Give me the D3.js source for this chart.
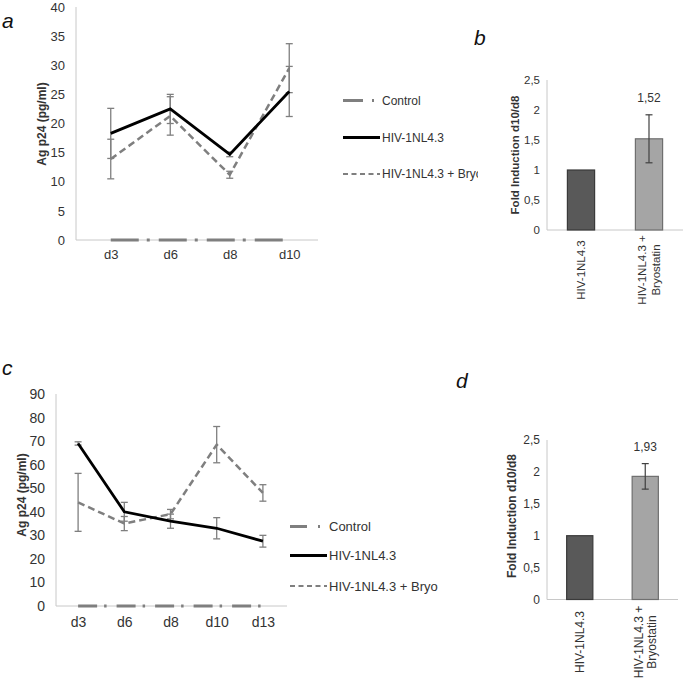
<!DOCTYPE html>
<html lang="en">
<head>
  <meta charset="UTF-8">
  <title>Ag p24 / Fold Induction</title>
  <style>
    body { margin: 0; background: #fff; }
    svg text { font-family: "Liberation Sans", Arial, sans-serif; fill: #333; }
    .panel { font-style: italic; font-size: 21px; fill: #111; }
    .ytitle { font-weight: bold; }
  </style>
</head>
<body>
<div id="chart"></div>
<script src="https://cdn.jsdelivr.net/npm/d3@7"></script>
<script>
// panel a
let daysA = ['d3', 'd6', 'd8', 'd10']
let controlA = [0, 0, 0, 0]
let hivA = [18.3, 22.5, 14.7, 25.5]
let hivErrA = [4.3, 2.5, 0.4, 4.3]
let bryoA = [13.9, 21.3, 11.2, 29.5]
let bryoErrA = [3.4, 3.3, 0.6, 4.2]
let ticksA = [0, 5, 10, 15, 20, 25, 30, 35, 40]

// panel c
let daysC = ['d3', 'd6', 'd8', 'd10', 'd13']
let controlC = [0, 0, 0, 0, 0]
let hivC = [69, 40, 36, 33, 27.5]
let hivErrC = [0.7, 4, 3, 4.5, 2.5]
let bryoC = [44, 35, 39, 68.5, 48]
let bryoErrC = [12.3, 3, 2, 7.7, 3.5]
let ticksC = [0, 10, 20, 30, 40, 50, 60, 70, 80, 90]

// panels b, d
let groups = [['HIV-1NL4.3'], ['HIV-1NL4.3 +', 'Bryostatin']]
let foldB = [1, 1.52]
let foldErrB = [0, 0.4]
let foldD = [1, 1.93]
let foldErrD = [0, 0.2]
let ticksFold = [0, 0.5, 1, 1.5, 2, 2.5]

let legendNames = ['Control', 'HIV-1NL4.3', 'HIV-1NL4.3 + Bryo']

let axisColor = '#c8c8c8'
let grey = '#7f7f7f'

let svg = d3.select('#chart').append('svg').attr('width', 685).attr('height', 682)

svg.append('defs').append('clipPath').attr('id', 'legclipA')
  .append('rect').attr('x', 330).attr('y', 80).attr('width', 148).attr('height', 110)

function linePanel(o) {
  let g = svg.append('g')
  let y = d3.scaleLinear().domain([0, o.ymax]).range([o.y0, o.y1])
  let x = d3.scalePoint().domain(o.days).range(o.xr).padding(0.5)

  // axes
  g.append('line').attr('x1', o.ax).attr('x2', o.ax).attr('y1', o.y1).attr('y2', o.y0)
    .attr('stroke', axisColor)
  g.append('line').attr('x1', o.ax).attr('x2', o.xend).attr('y1', o.y0).attr('y2', o.y0)
    .attr('stroke', axisColor)

  let yAxis = d3.axisLeft(y).tickValues(o.ticks).tickSize(0).tickPadding(o.ax - o.labx)
  g.append('g').attr('transform', 'translate(' + o.ax + ',0)').call(yAxis)
    .call(s => s.select('.domain').remove())
    .selectAll('text').style('font-size', o.fs + 'px').attr('fill', '#333')

  let xAxis = d3.axisBottom(x).tickSize(0).tickPadding(o.xpad)
  g.append('g').attr('transform', 'translate(0,' + o.y0 + ')').call(xAxis)
    .call(s => s.select('.domain').remove())
    .selectAll('text').style('font-size', o.fs + 'px').attr('fill', '#333')

  g.append('text').attr('class', 'ytitle')
    .attr('transform', 'translate(' + o.tx + ',' + o.ty + ') rotate(-90)')
    .attr('text-anchor', 'middle').attr('dy', '0.35em')
    .style('font-size', '12px').attr('fill', '#111').text('Ag p24 (pg/ml)')

  let line = d3.line().x((d, i) => x(o.days[i])).y(d => y(d))

  // control
  g.append('path').datum(o.control).attr('d', line).attr('fill', 'none')
    .attr('stroke', grey).attr('stroke-width', 3).attr('stroke-dasharray', o.dashdot)

  // error bars
  function errors(vals, errs) {
    vals.forEach((v, i) => {
      let cx = x(o.days[i])
      let top = y(v + errs[i]), bot = y(v - errs[i])
      g.append('line').attr('x1', cx).attr('x2', cx).attr('y1', top).attr('y2', bot)
        .attr('stroke', grey).attr('stroke-width', 1.3)
      ;[top, bot].forEach(yy => {
        g.append('line').attr('x1', cx - 3.5).attr('x2', cx + 3.5).attr('y1', yy).attr('y2', yy)
          .attr('stroke', grey).attr('stroke-width', 1.3)
      })
    })
  }
  errors(o.hiv, o.hivErr)
  errors(o.bryo, o.bryoErr)

  g.append('path').datum(o.bryo).attr('d', line).attr('fill', 'none')
    .attr('stroke', grey).attr('stroke-width', 2.5).attr('stroke-dasharray', '7,4')
  g.append('path').datum(o.hiv).attr('d', line).attr('fill', 'none')
    .attr('stroke', '#000').attr('stroke-width', 2.8)

  // legend
  let lg = g.append('g')
  if (o.clip) lg.attr('clip-path', 'url(#' + o.clip + ')')
  o.legY.forEach((ly, i) => {
    if (i === 0) {
      lg.append('line').attr('x1', o.lx).attr('x2', o.lx + o.ldash).attr('y1', ly).attr('y2', ly)
        .attr('stroke', grey).attr('stroke-width', 3)
      lg.append('line').attr('x1', o.ldot).attr('x2', o.ldot + 2).attr('y1', ly).attr('y2', ly)
        .attr('stroke', grey).attr('stroke-width', 3)
    } else if (i === 1) {
      lg.append('line').attr('x1', o.lx).attr('x2', o.lx2).attr('y1', ly).attr('y2', ly)
        .attr('stroke', '#000').attr('stroke-width', 2.8)
    } else {
      lg.append('line').attr('x1', o.lx).attr('x2', o.lx2).attr('y1', ly).attr('y2', ly)
        .attr('stroke', grey).attr('stroke-width', 2.2).attr('stroke-dasharray', '5,3.5')
    }
    lg.append('text').attr('x', o.ltx).attr('y', ly).attr('dy', '0.35em')
      .style('font-size', o.lfs + 'px').attr('fill', '#222').text(legendNames[i])
  })
}

function barPanel(o) {
  let g = svg.append('g')
  let y = d3.scaleLinear().domain([0, 2.5]).range([o.y0, o.y1])
  let x = d3.scaleBand().domain([0, 1]).range(o.xr).paddingInner(0.6).paddingOuter(0.3)

  g.append('line').attr('x1', o.ax).attr('x2', o.ax).attr('y1', o.y1).attr('y2', o.y0)
    .attr('stroke', axisColor)
  g.append('line').attr('x1', o.ax).attr('x2', o.xr[1]).attr('y1', o.y0).attr('y2', o.y0)
    .attr('stroke', axisColor)

  let yAxis = d3.axisLeft(y).tickValues(ticksFold).tickSize(0).tickPadding(7)
    .tickFormat(d => String(d).replace('.', ','))
  g.append('g').attr('transform', 'translate(' + o.ax + ',0)').call(yAxis)
    .call(s => s.select('.domain').remove())
    .selectAll('text').style('font-size', o.fs + 'px').attr('fill', '#333')

  g.append('text').attr('class', 'ytitle')
    .attr('transform', 'translate(' + o.tx + ',' + o.ty + ') rotate(-90)')
    .attr('text-anchor', 'middle').attr('dy', '0.35em')
    .style('font-size', o.tfs + 'px').attr('fill', '#111').text('Fold Induction d10/d8')

  let fills = ['#595959', '#a5a5a5']
  let strokes = ['#3a3a3a', '#6f6f6f']
  o.vals.forEach((v, i) => {
    g.append('rect').attr('x', x(i)).attr('y', y(v)).attr('width', x.bandwidth())
      .attr('height', o.y0 - y(v)).attr('fill', fills[i]).attr('stroke', strokes[i]).attr('stroke-width', 1.2)
    let cx = x(i) + x.bandwidth() / 2
    if (o.errs[i] > 0) {
      let top = y(v + o.errs[i]), bot = y(v - o.errs[i])
      g.append('line').attr('x1', cx).attr('x2', cx).attr('y1', top).attr('y2', bot)
        .attr('stroke', '#404040').attr('stroke-width', 1.2)
      ;[top, bot].forEach(yy => {
        g.append('line').attr('x1', cx - 3.5).attr('x2', cx + 3.5).attr('y1', yy).attr('y2', yy)
          .attr('stroke', '#404040').attr('stroke-width', 1.2)
      })
      g.append('text').attr('x', cx).attr('y', top - 13).attr('text-anchor', 'middle')
        .style('font-size', '12px').attr('fill', '#333').text(String(v).replace('.', ','))
    }
    // rotated category labels
    let lines = groups[i]
    lines.forEach((t, j) => {
      let lx = cx + 4 + (j - (lines.length - 1) / 2) * 13.5
      g.append('text').attr('transform', 'translate(' + lx + ',' + o.labY + ') rotate(-90)')
        .attr('text-anchor', 'middle').style('font-size', o.lbfs + 'px').attr('fill', '#222').text(t)
    })
  })
}

linePanel({
  days: daysA, control: controlA, hiv: hivA, hivErr: hivErrA, bryo: bryoA, bryoErr: bryoErrA,
  ticks: ticksA, ymax: 40, y0: 240, y1: 7, xr: [81, 319], ax: 76, xend: 318, labx: 65,
  fs: 13, xpad: 10, tx: 42, ty: 124, dashdot: '28,8,3,9',
  legY: [100.5, 137.5, 174], lx: 343, lx2: 380, ldash: 20, ldot: 372, ltx: 382, lfs: 12, clip: 'legclipA'
})

linePanel({
  days: daysC, control: controlC, hiv: hivC, hivErr: hivErrC, bryo: bryoC, bryoErr: bryoErrC,
  ticks: ticksC, ymax: 90, y0: 606, y1: 394, xr: [55, 286], ax: 56, xend: 287, labx: 45,
  fs: 14, xpad: 11, tx: 22, ty: 495, dashdot: '19,7,2.5,10',
  legY: [526.5, 555.5, 586], lx: 290, lx2: 327, ldash: 17, ldot: 318, ltx: 329, lfs: 13
})

barPanel({ vals: foldB, errs: foldErrB, y0: 230, y1: 80, xr: [547, 683], ax: 547,
  fs: 11.5, tx: 515, ty: 155, tfs: 11.5, labY: 270, lbfs: 11.5 })

barPanel({ vals: foldD, errs: foldErrD, y0: 599.5, y1: 440, xr: [547, 678], ax: 547,
  fs: 12, tx: 512, ty: 516, tfs: 12, labY: 642, lbfs: 12 })

// panel letters
svg.append('text').attr('class', 'panel').attr('x', 2).attr('y', 28).text('a')
svg.append('text').attr('class', 'panel').attr('x', 474).attr('y', 45).text('b')
svg.append('text').attr('class', 'panel').attr('x', 2).attr('y', 375).text('c')
svg.append('text').attr('class', 'panel').attr('x', 456).attr('y', 388).text('d')
</script>
</body>
</html>
